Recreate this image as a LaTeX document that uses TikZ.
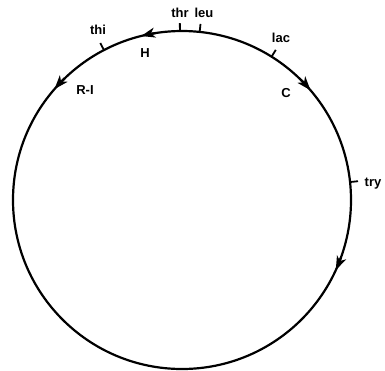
\documentclass[tikz,border=0pt]{standalone}
\usepackage{fontspec}
\setmainfont{Liberation Sans}
\usetikzlibrary{arrows.meta,calc}
\begin{document}
\begin{tikzpicture}[x=1pt,y=1pt,
  ring/.style={line width=2.2pt},
  tick/.style={line width=1.8pt},
  lbl/.style={font=\bfseries\fontsize{13}{14}\selectfont, inner sep=0pt},
  tip/.style={line width=2.2pt,-{Stealth[length=14pt,width=10pt,inset=4pt]}}]
\useasboundingbox (0,0) rectangle (385,-370);
\coordinate (o) at (182,-200);
\def\R{169}
\draw[ring] (o) circle[radius=\R];
% ticks
\draw[tick] ($(o)+(90.7:\R)$) -- ($(o)+(90.7:\R+8)$);
\draw[tick] ($(o)+(84:\R)$) -- ($(o)+(84:\R+8)$);
\draw[tick] ($(o)+(58:\R)$) -- ($(o)+(58:\R+8)$);
\draw[tick] ($(o)+(117.5:\R)$) -- ($(o)+(117.5:\R+8)$);
\draw[tick] ($(o)+(6.1:\R)$) -- ($(o)+(6.1:\R+8)$);
% arrows
\draw[tip] ($(o)+(99:\R)$) arc[start angle=99, end angle=104, radius=\R];
\draw[tip] ($(o)+(134:\R)$) arc[start angle=134, end angle=139, radius=\R];
\draw[tip] ($(o)+(45:\R)$) arc[start angle=45, end angle=40.5, radius=\R];
\draw[tip] ($(o)+(-20:\R)$) arc[start angle=-20, end angle=-24.5, radius=\R];
% labels
\node[lbl] (thr) at (180,-13) {thr};
\node[lbl] (leu) at (204,-13) {leu};
\node[lbl] (H) at (145,-53) {H};
\node[lbl] (lac) at (281,-38) {lac};
\node[lbl] (thi) at (98,-30) {thi};
\node[lbl] (RI) at (85,-90) {R-I};
\node[lbl] (C) at (286,-93) {C};
\node[lbl] (try) at (373,-184) {try};
\end{tikzpicture}
\end{document}
